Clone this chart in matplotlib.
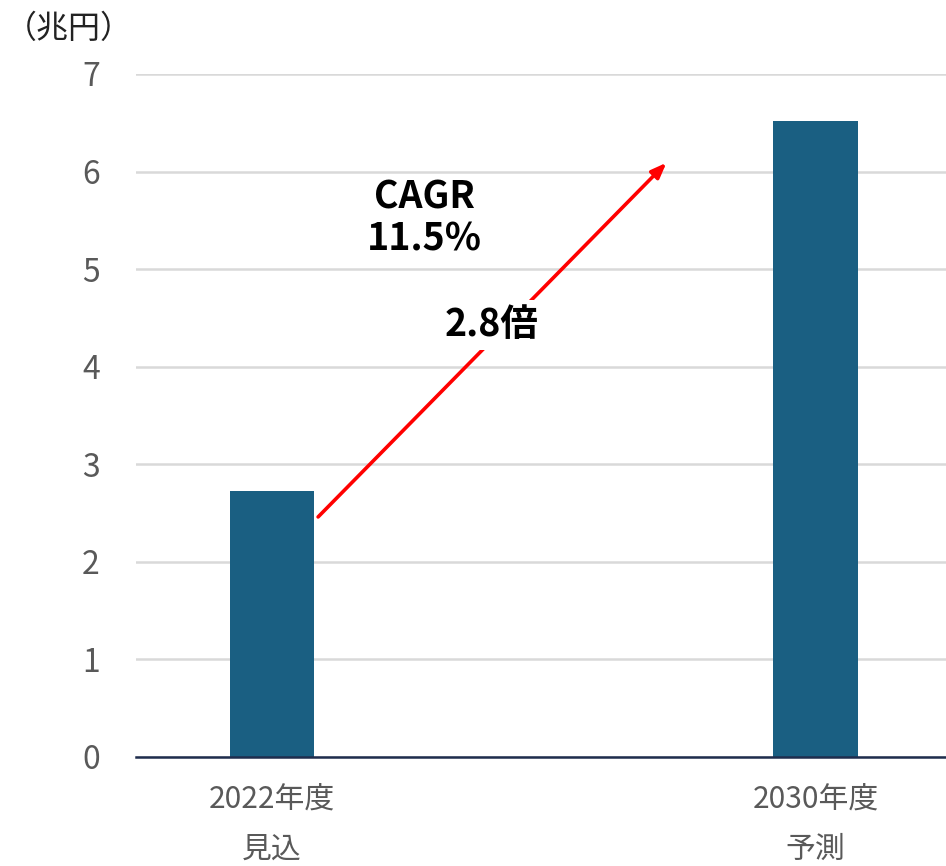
import matplotlib

matplotlib.use("Agg")
import matplotlib.pyplot as plt

plt.rcParams["font.family"] = ["Noto Sans CJK JP", "DejaVu Sans"]

# ── data ────────────────────────────────────────────────────────────
categories = ["2022年度\n見込", "2030年度\n予測"]
values = [2.73, 6.52]          # 兆円
y_ticks = [0, 1, 2, 3, 4, 5, 6, 7]
unit_label = "（兆円）"
cagr_label = "CAGR\n11.5%"
ratio_label = "2.8倍"

bar_color = "#1a5f82"
grid_color = "#d9d9d9"
tick_color = "#595959"

fig = plt.figure(figsize=(9.46, 8.66), dpi=100)
ax = fig.add_axes([0.1438, 0.1259, 0.856, 0.7887])

x = list(range(len(categories)))
ax.bar(x, values, width=0.156, color=bar_color, zorder=3)

ax.set_xlim(-0.25, 1.24)
ax.set_ylim(0, 7)
ax.set_yticks(y_ticks)
ax.set_xticks(x)
ax.set_xticklabels(categories, linespacing=1.75)

ax.grid(True, axis="y", color=grid_color, linewidth=1.8, zorder=0)
ax.set_axisbelow(True)
for side in ("top", "right", "left"):
    ax.spines[side].set_visible(False)
ax.spines["bottom"].set_color("#1f2d4d")
ax.spines["bottom"].set_linewidth(1.8)
ax.spines["bottom"].set_zorder(4)

ax.tick_params(axis="y", length=0, pad=26, labelsize=23, labelcolor=tick_color)
ax.tick_params(axis="x", length=0, pad=20, labelsize=21.5, labelcolor=tick_color)

# growth arrow
ax.annotate("", xy=(0.726, 6.09), xytext=(0.085, 2.46),
            arrowprops=dict(arrowstyle="-|>,head_length=0.9,head_width=0.35",
                            color="#ff0000", lw=2.6, shrinkA=0, shrinkB=0),
            zorder=5)

ax.text(0.281, 5.52, cagr_label, ha="center", va="center", fontsize=27,
        fontweight="bold", linespacing=1.1, zorder=6)
ax.text(0.404, 4.43, ratio_label, ha="center", va="center", fontsize=27,
        fontweight="bold", zorder=6,
        bbox=dict(facecolor="white", edgecolor="none", pad=4))

fig.text(0.005, 0.967, unit_label, ha="left", va="center", fontsize=23,
         color="#222222")

fig.savefig("out.png", dpi=100)
